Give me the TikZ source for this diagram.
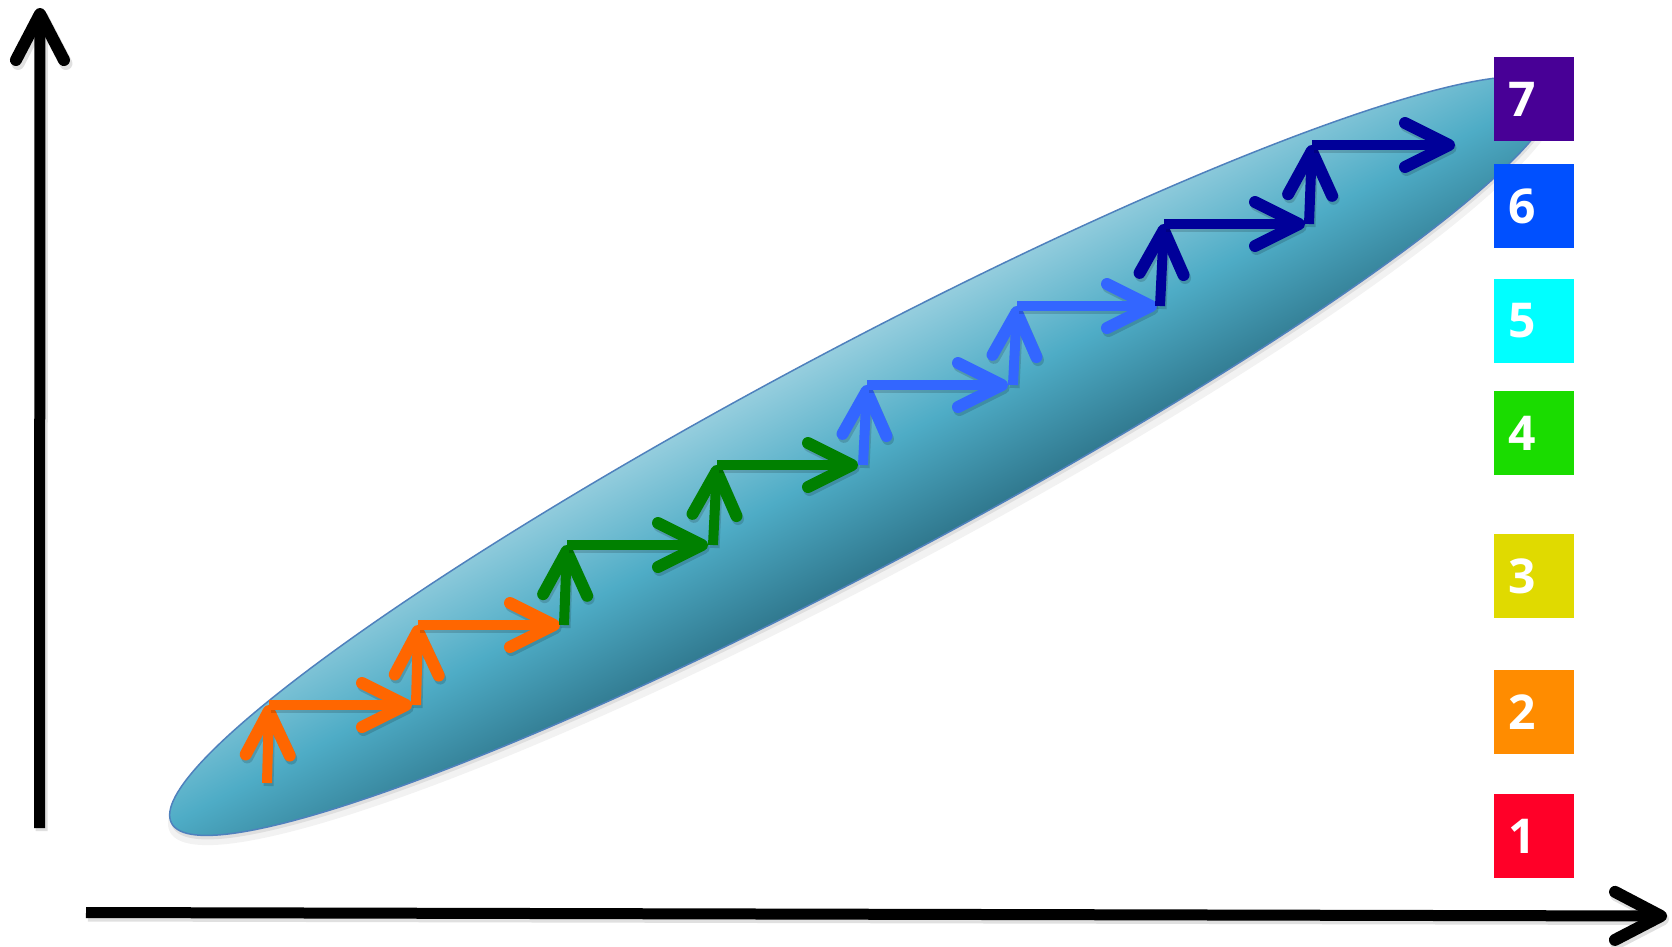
\documentclass[tikz,border=0pt]{standalone}
\usepackage{fontspec}
\newfontfamily\numfont{Open Sans}
\usetikzlibrary{arrows.meta,shapes.geometric}
\definecolor{orangeA}{RGB}{255,102,0}
\definecolor{greenA}{RGB}{0,128,0}
\definecolor{blueA}{RGB}{51,102,255}
\definecolor{navyA}{RGB}{0,0,153}
\definecolor{lvA}{RGB}{255,0,40}
\definecolor{lvB}{RGB}{255,140,0}
\definecolor{lvC}{RGB}{224,218,0}
\definecolor{lvD}{RGB}{26,220,0}
\definecolor{lvE}{RGB}{0,255,255}
\definecolor{lvF}{RGB}{0,80,255}
\definecolor{lvG}{RGB}{72,0,150}
\definecolor{bandTop}{RGB}{150,206,222}
\definecolor{bandMid}{RGB}{78,172,198}
\definecolor{bandBot}{RGB}{48,120,142}
\definecolor{bandEdge}{RGB}{79,129,189}
\begin{document}
\begin{tikzpicture}[x=1pt,y=-1pt,
  axisline/.style={line width=11pt, -{Straight Barb[length=46pt,width=48pt,round,line width=1pt 1]},
    preaction={draw=black, opacity=0.12, line width=12pt, transform canvas={shift={(2pt,-3pt)}}}},
  stepline/.style={line width=10pt, -{Straight Barb[length=44pt,width=44pt,round,line width=2pt 1]},
    preaction={draw=black, opacity=0.15, line width=10pt, transform canvas={shift={(1.5pt,-3pt)}}}},
  levelbox/.style={minimum width=80pt, minimum height=84pt, text width=52pt, inner xsep=14pt, inner ysep=0pt, outer sep=0pt, anchor=north west, align=left, text=white, font=\numfont\bfseries\fontsize{48}{48}\selectfont}
]
\useasboundingbox[fill=white] (0,0) rectangle (1672,946);

% soft shadow of the band
\fill[black, opacity=0.05, transform canvas={shift={(864,463)}, rotate=28}] (0,0) ellipse [x radius=786, y radius=112];
\fill[black, opacity=0.08, transform canvas={shift={(863,460)}, rotate=28}] (0,0) ellipse [x radius=782, y radius=108];
% band (shading follows the band's own axes)
\shade[draw=bandEdge, line width=1.5pt, top color=bandTop, bottom color=bandBot, middle color=bandMid,
  transform canvas={shift={(862,456)}, rotate=28}] (0,0) ellipse [x radius=782, y radius=108];

% axes
\coordinate (ybot) at (39.5,828);
\coordinate (ytop) at (40,8);
\coordinate (xleft) at (86,912.5);
\coordinate (xright) at (1667,916);
\draw[axisline] (ybot) -- (ytop);
\draw[axisline] (xleft) -- (xright);

% staircase corners: bottom (b), top (t), end of horizontal (e)
\coordinate (b0) at (267,783); \coordinate (t0) at (269,705); \coordinate (e0) at (412,705);
\coordinate (b1) at (416,705); \coordinate (t1) at (418,625); \coordinate (e1) at (560,625);
\coordinate (b2) at (564,625); \coordinate (t2) at (567,545); \coordinate (e2) at (708,545);
\coordinate (b3) at (713,545); \coordinate (t3) at (717,465); \coordinate (e3) at (858,465);
\coordinate (b4) at (863,465); \coordinate (t4) at (867,385); \coordinate (e4) at (1008,385);
\coordinate (b5) at (1013,385); \coordinate (t5) at (1017,306); \coordinate (e5) at (1157,306);
\coordinate (b6) at (1160,306); \coordinate (t6) at (1164,224); \coordinate (e6) at (1305,224);
\coordinate (b7) at (1309,224); \coordinate (t7) at (1312,145); \coordinate (e7) at (1455,145);

\draw[stepline, orangeA] (b0) -- (t0);
\draw[stepline, orangeA] (t0) -- (e0);
\draw[stepline, orangeA] (b1) -- (t1);
\draw[stepline, orangeA] (t1) -- (e1);
\draw[stepline, greenA] (b2) -- (t2);
\draw[stepline, greenA] (t2) -- (e2);
\draw[stepline, greenA] (b3) -- (t3);
\draw[stepline, greenA] (t3) -- (e3);
\draw[stepline, blueA] (b4) -- (t4);
\draw[stepline, blueA] (t4) -- (e4);
\draw[stepline, blueA] (b5) -- (t5);
\draw[stepline, blueA] (t5) -- (e5);
\draw[stepline, navyA] (b6) -- (t6);
\draw[stepline, navyA] (t6) -- (e6);
\draw[stepline, navyA] (b7) -- (t7);
\draw[stepline, navyA] (t7) -- (e7);

% level boxes
\node[levelbox, fill=lvG] (box7) at (1494,57) {7};
\node[levelbox, fill=lvF] (box6) at (1494,164) {6};
\node[levelbox, fill=lvE] (box5) at (1494,279) {5};
\node[levelbox, fill=lvD] (box4) at (1494,391) {4};
\node[levelbox, fill=lvC] (box3) at (1494,534) {3};
\node[levelbox, fill=lvB] (box2) at (1494,670) {2};
\node[levelbox, fill=lvA] (box1) at (1494,794) {1};
\end{tikzpicture}
\end{document}
